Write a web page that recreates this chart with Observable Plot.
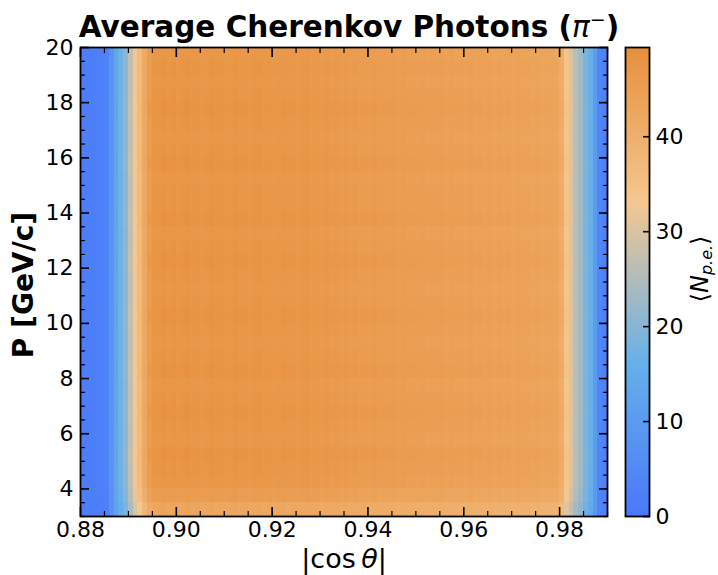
<!DOCTYPE html>
<html><head><meta charset="utf-8">
<script src="https://cdn.jsdelivr.net/npm/d3@7"></script>
<script src="https://cdn.jsdelivr.net/npm/@observablehq/plot@0.6"></script>
<style>
body{margin:0;background:#fff;font-family:"DejaVu Sans",sans-serif;}
#wrap{position:relative;width:718px;height:575px;overflow:hidden;}
#wrap svg{position:absolute;top:0;left:0;}
.lbl{position:absolute;color:#000;white-space:nowrap;font-family:"DejaVu Sans",sans-serif;}
</style></head><body><div id="wrap"></div>
<script>
// |cos θ| bins (bin starts, width 0.001) and momentum bins (GeV/c, width 0.5)
const cosBins = d3.range(110).map(i => +(0.880 + i * 0.001).toFixed(3));
const pBins = d3.range(34).map(j => 3 + j * 0.5);
// mean number of photo-electrons per |cos θ| column
const colMean = [
  1.5,1.5,1.8,2.0,2.2,3.0,8,13,17,21,27,33,37,42,46,
  47.2,47.6,47.9,47.4,47.8,47.1,47.5,47.9,47.3,47.6,47.0,47.4,47.8,47.2,47.5,46.9,47.3,47.7,47.1,47.4,
  46.8,47.2,47.5,46.9,47.3,46.7,47.0,47.4,46.8,47.1,46.6,46.9,47.2,46.6,46.9,
  46.4,46.7,46.2,46.5,46.0,46.3,45.9,46.2,45.7,46.0,45.6,45.9,45.4,45.7,45.3,45.6,45.2,45.4,45.0,45.3,
  44.9,45.2,44.7,45.0,44.6,44.9,44.5,44.8,44.4,44.7,44.3,44.6,44.2,44.5,44.1,44.4,44.0,44.3,43.9,44.2,
  43.8,44.1,43.7,44.0,43.6,43.9,43.5,43.8,43.4,43.2,
  41,34,30,26,23,19,16,10,4,2.5
];
// relative yield per momentum row
const rowFactor = [
  0.90,0.96,0.99,1.00,1.01,0.99,1.00,1.01,1.00,0.99,
  1.01,1.00,0.99,1.00,1.01,1.00,0.99,1.00,1.01,1.00,
  0.99,1.01,1.00,1.00,0.99,1.01,1.00,0.99,1.00,1.01,
  1.00,0.99,1.00,0.99
];
const xMajor = [0.88,0.90,0.92,0.94,0.96,0.98];
const xMinor = d3.range(0,23).map(i => +(0.88 + i*0.005).toFixed(3)).filter(v => !xMajor.some(m => Math.abs(m-v) < 1e-9));
const yMajor = [4,6,8,10,12,14,16,18,20];
const yMinor = d3.range(0,35).map(i => 3 + i*0.5).filter(v => !yMajor.includes(v));
const cbTicks = [0,10,20,30,40];
const cbMax = 49.4;
const xLabel = "|cos θ|";
const yLabel = "P [GeV/c]";
const cbLabel = "⟨Np.e.⟩";

const cells = [];
pBins.forEach((p, j) => cosBins.forEach((c, i) => {
  cells.push({x1: c, x2: +(c + 0.001).toFixed(3), y1: p, y2: p + 0.5, v: colMean[i] * rowFactor[j]});
}));

const colorScale = {type: "linear", domain: [0, 16, 33, cbMax], range: ["#4a78fb", "#66b0ea", "#f5c790", "#e78f3c"], clamp: true};
const font = {fontFamily: "DejaVu Sans", fontSize: "22px", color: "#000", background: "transparent"};

const main = Plot.plot({
  width: 718, height: 575,
  marginLeft: 80, marginRight: 111, marginTop: 47, marginBottom: 59,
  x: {domain: [0.88, 0.99], label: null},
  y: {domain: [3, 20], label: null},
  color: colorScale,
  style: font,
  marks: [
    Plot.rect(cells, {x1: "x1", x2: "x2", y1: "y1", y2: "y2", fill: "v", shapeRendering: "crispEdges"}),
    // major ticks, inward, all four sides
    Plot.axisX(xMajor, {anchor: "bottom", tickSize: 9, dy: -9, fill: "none", strokeWidth: 1.6}),
    Plot.axisX(xMajor, {anchor: "top", tickSize: 9, dy: 9, fill: "none", strokeWidth: 1.6}),
    Plot.axisX(xMinor, {anchor: "bottom", tickSize: 5, dy: -5, fill: "none", strokeWidth: 1.2}),
    Plot.axisX(xMinor, {anchor: "top", tickSize: 5, dy: 5, fill: "none", strokeWidth: 1.2}),
    Plot.axisY(yMajor, {anchor: "left", tickSize: 9, dx: 9, fill: "none", strokeWidth: 1.6}),
    Plot.axisY(yMajor, {anchor: "right", tickSize: 9, dx: -9, fill: "none", strokeWidth: 1.6}),
    Plot.axisY(yMinor, {anchor: "left", tickSize: 5, dx: 5, fill: "none", strokeWidth: 1.2}),
    Plot.axisY(yMinor, {anchor: "right", tickSize: 5, dx: -5, fill: "none", strokeWidth: 1.2}),
    // tick labels
    Plot.axisX(xMajor, {anchor: "bottom", tickSize: 0, tickPadding: 5, tickFormat: d3.format(".2f"), label: null, fontSize: 22}),
    Plot.axisY(yMajor, {anchor: "left", tickSize: 0, tickPadding: 7, tickFormat: d3.format("d"), label: null, fontSize: 22}),
    Plot.frame({stroke: "#000", strokeWidth: 1.8}),
    Plot.text([yLabel], {frameAnchor: "left", textAnchor: "middle", lineAnchor: "middle", dx: -56, dy: 3, rotate: -90, fontSize: 28, fontWeight: "bold", fill: "#000"}),
    Plot.text([xLabel], {frameAnchor: "bottom", textAnchor: "middle", lineAnchor: "bottom", dy: 51, fontSize: 27, fill: "#000"})
  ]
});

const ramp = d3.range(0, cbMax, 0.1).map(v => ({y1: v, y2: Math.min(cbMax, v + 0.1), v}));
const cbar = Plot.plot({
  width: 718, height: 575,
  marginLeft: 625, marginRight: 69, marginTop: 47, marginBottom: 59,
  x: {domain: [0, 1], axis: null},
  y: {domain: [0, cbMax], label: null, axis: null},
  color: colorScale,
  style: font,
  marks: [
    Plot.rect(ramp, {x1: 0, x2: 1, y1: "y1", y2: "y2", fill: "v", shapeRendering: "crispEdges"}),
    Plot.axisY(cbTicks, {anchor: "right", tickSize: 7, dx: -7, fill: "none", strokeWidth: 1.6}),
    Plot.axisY(cbTicks, {anchor: "right", tickSize: 0, tickPadding: 6, label: null, fontSize: 22, textAnchor: "start"}),
    Plot.frame({stroke: "#000", strokeWidth: 1.8}),
    Plot.text([cbLabel], {frameAnchor: "right", textAnchor: "middle", lineAnchor: "middle", dx: 51, dy: -13, rotate: -90, fontSize: 24, fill: "#000"})
  ]
});

// rich text (italic symbols, subscript) inside the SVG labels
function richen(svg, plain, html) {
  for (const t of svg.querySelectorAll("text")) {
    if (t.textContent === plain) { t.innerHTML = html; }
  }
}
richen(main, xLabel, '|cos\u2009<tspan font-style="italic">θ</tspan>|');
richen(cbar, cbLabel, '⟨<tspan font-style="italic">N</tspan><tspan font-style="italic" font-size="16" dy="4">p.e.</tspan><tspan dy="-4">⟩</tspan>');

const wrap = document.getElementById("wrap");
wrap.append(main, cbar);

const title = document.createElement("div");
title.className = "lbl";
title.style.cssText = "left:0;width:698px;top:3px;text-align:center;font-size:29.5px;line-height:32px;font-weight:bold;";
title.innerHTML = 'Average Cherenkov Photons (<i style="font-weight:normal">π</i><sup style="font-weight:normal;font-size:19px">−</sup>)';
wrap.append(title);
</script>
</body></html>
